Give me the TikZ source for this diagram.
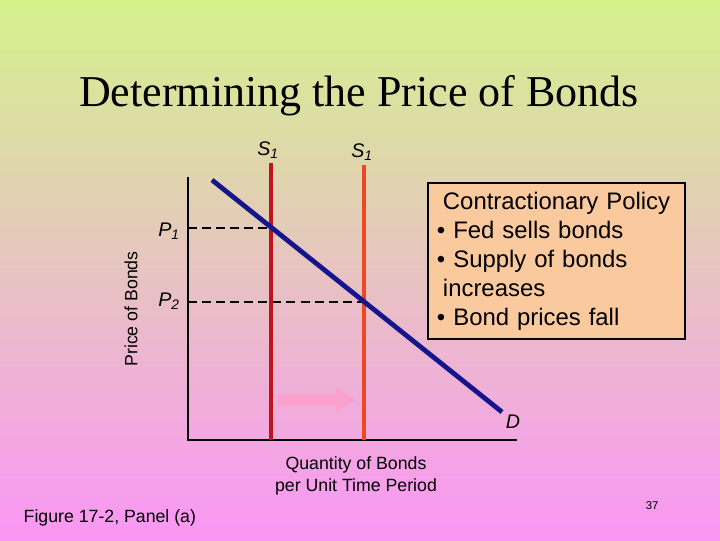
\documentclass[tikz,border=0pt]{standalone}
\usepackage{fontspec}
\setmainfont{Liberation Serif}
\setsansfont{Liberation Sans}
\usepackage{tikz}
\usetikzlibrary{positioning,arrows.meta,calc}
\definecolor{bgtop}{RGB}{212,242,140}
\definecolor{bgmid}{RGB}{236,206,196}
\definecolor{bgbot}{RGB}{250,150,245}
\definecolor{bondnavy}{RGB}{20,20,140}
\definecolor{supplyred}{RGB}{190,20,30}
\definecolor{supplyorange}{RGB}{235,72,35}
\definecolor{peach}{RGB}{250,202,158}
\definecolor{shiftpink}{RGB}{250,160,205}
\tikzset{
  axis/.style={line width=2.1pt, draw=black},
  supply/.style={line width=2.8pt},
  demand/.style={line width=3.4pt, draw=bondnavy},
  guide/.style={line width=1.3pt, dash pattern=on 6.4pt off 3.6pt},
  curvelbl/.style={font=\sffamily\itshape\fontsize{14}{16}\selectfont, inner sep=1pt},
  axislbl/.style={font=\sffamily\fontsize{12.6}{15.5}\selectfont, align=center, inner sep=1pt},
  note/.style={draw=black, line width=1.4pt, fill=peach, align=left, text width=5.975cm, minimum width=6.425cm, minimum height=3.8cm, inner sep=0.225cm, font=\sffamily\fontsize{17}{20.6}\selectfont},
}
\begin{document}
\begin{tikzpicture}[x=0.025cm, y=-0.025cm]
  % background
  \useasboundingbox (0,0) rectangle (720,540);
  \fill[top color=bgtop, middle color=bgmid, bottom color=bgbot] (0,0) rectangle (720,540);

  \node[font=\fontsize{31.3}{37}\selectfont] (title) at (359,96) {Determining the Price of Bonds};

  % axes
  \coordinate (O) at (188,440);
  \coordinate (ytop) at (188,177);
  \coordinate (xend) at (517,440);
  \draw[axis] (ytop) -- (O) -- (xend);

  % supply and demand
  \coordinate (s1top) at (271,163);
  \coordinate (s1bot) at (271,440);
  \coordinate (s2top) at (364,165);
  \coordinate (s2bot) at (364,440);
  \coordinate (dtop) at (212,180);
  \coordinate (dbot) at (502,412);
  \coordinate (p1) at (271,228);
  \coordinate (p2) at (364,302);
  \draw[guide] (O |- p1) -- (p1);
  \draw[guide] (O |- p2) -- (p2);
  \draw[supply, draw=supplyred] (s1top) -- (s1bot);
  \draw[supply, draw=supplyorange] (s2top) -- (s2bot);
  \draw[demand] (dtop) -- (dbot);

  % shift arrow
  \coordinate (shiftA) at (278,400);
  \coordinate (shiftB) at (356,400);
  \draw[shiftpink, line width=8.5pt, -{Triangle[length=14pt, width=16pt]}] (shiftA) -- (shiftB);

  % labels
  \node[curvelbl] (s1lbl) at (268,150) {S\textsubscript{\itshape 1}};
  \node[curvelbl] (s2lbl) at (362,152) {S\textsubscript{\itshape 1}};
  \node[curvelbl] (p1lbl) at (169,231) {P\textsubscript{\itshape 1}};
  \node[curvelbl] (p2lbl) at (169,301) {P\textsubscript{\itshape 2}};
  \node[curvelbl] (dlbl) at (513,422) {D};
  \node[axislbl, rotate=90] (ylbl) at (131,309) {Price of Bonds};
  \node[axislbl] (xlbl) at (356,476) {Quantity of Bonds\\per Unit Time Period};

  \node[note] (policy) at (556.5,261) {\hspace*{0.15cm}Contractionary Policy\\
    \textbullet{} Fed sells bonds\\
    \textbullet{} Supply of bonds\\
    \hspace*{0.15cm}increases\\
    \textbullet{} Bond prices fall};

  \node[axislbl, anchor=west] (fig) at (22,518) {Figure 17-2, Panel (a)};
  \node[font=\sffamily\fontsize{8}{9}\selectfont] (page) at (652,506) {37};
\end{tikzpicture}
\end{document}
